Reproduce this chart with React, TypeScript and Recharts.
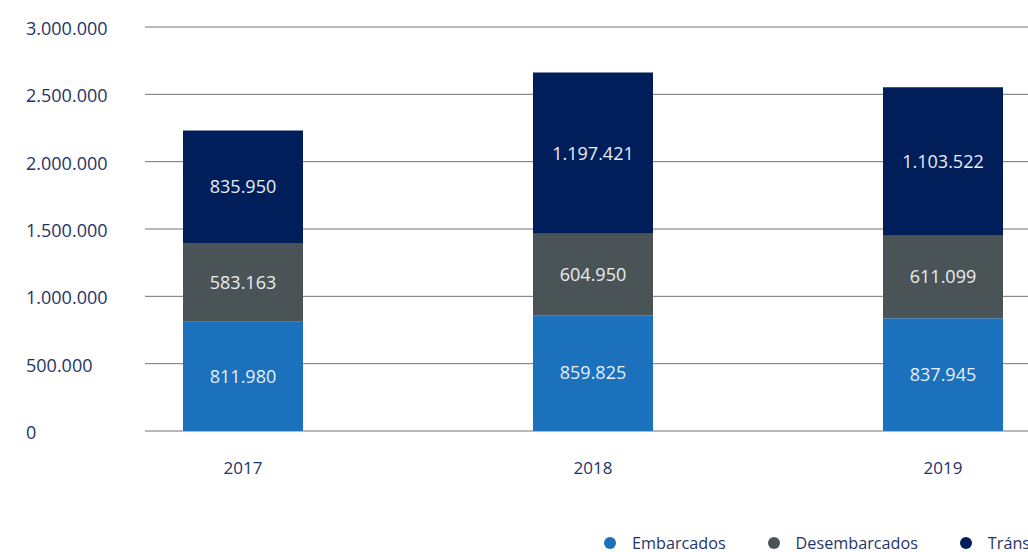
import React from "react";
import { BarChart, Bar, XAxis, YAxis, CartesianGrid, LabelList } from "recharts";

const years = ["2017", "2018", "2019"];
const embarcados = [811980, 859825, 837945];
const desembarcados = [583163, 604950, 611099];
const transito = [835950, 1197421, 1103522];
const yTicks = [0, 500000, 1000000, 1500000, 2000000, 2500000, 3000000];

const seriesInfo = [
  { key: "embarcados", name: "Embarcados", color: "#1b71bb" },
  { key: "desembarcados", name: "Desembarcados", color: "#4a5456" },
  { key: "transito", name: "Tránsito", color: "#001f5a" },
];

const FONT = "'Open Sans', sans-serif";
const TEXT = "#1f3468";

const fmt = (v: number) =>
  String(Math.round(v)).replace(/\B(?=(\d{3})+(?!\d))/g, ".");

const chartData = years.map((year, i) => ({
  year,
  embarcados: embarcados[i],
  desembarcados: desembarcados[i],
  transito: transito[i],
}));

const YTick = (props: any) => {
  const { y, payload } = props;
  return (
    <text x={26} y={y + 1} textAnchor="start" dominantBaseline="central"
      fontFamily={FONT} fontSize={18} fill={TEXT}>
      {fmt(payload.value)}
    </text>
  );
};

const XTick = (props: any) => {
  const { x, y, payload } = props;
  return (
    <text x={x} y={y + 36} textAnchor="middle" dominantBaseline="central"
      fontFamily={FONT} fontSize={17} fill={TEXT}>
      {payload.value}
    </text>
  );
};

export default function App() {
  return (
    <div style={{ position: "absolute", left: 0, top: 0, width: 1028, height: 552, overflow: "hidden", background: "#fff" }}>
      <BarChart width={1118} height={552} data={chartData}
        margin={{ top: 27, right: 0, bottom: 81, left: 0 }}>
        <CartesianGrid vertical={false} stroke="#6e7479" x={145} width={1000} />
        <XAxis dataKey="year" axisLine={false} tickLine={false} tickSize={0} tickMargin={0}
          height={40} tick={<XTick />} interval={0} />
        <YAxis width={68} domain={[0, 3000000]} ticks={yTicks} axisLine={false}
          tickLine={false} tick={<YTick />} interval={0} />
        {seriesInfo.map((s) => (
          <Bar key={s.key} dataKey={s.key} name={s.name} stackId="a" fill={s.color}
            barSize={120} isAnimationActive={false}>
            <LabelList dataKey={s.key} position="center" formatter={(v: any) => fmt(Number(v))}
              style={{ fill: "#e8eef5", fontFamily: FONT, fontSize: 18 }} />
          </Bar>
        ))}
      </BarChart>
      <div style={{ position: "absolute", left: 604, top: 531, display: "flex", gap: 42, whiteSpace: "nowrap",
        fontFamily: FONT, fontSize: 16.2, color: TEXT, lineHeight: "24px" }}>
        {seriesInfo.map((s) => (
          <div key={s.key} style={{ display: "flex", alignItems: "center" }}>
            <span style={{ width: 12, height: 12, borderRadius: 6, background: s.color, marginRight: 16 }} />
            <span>{s.name}</span>
          </div>
        ))}
      </div>
    </div>
  );
}
